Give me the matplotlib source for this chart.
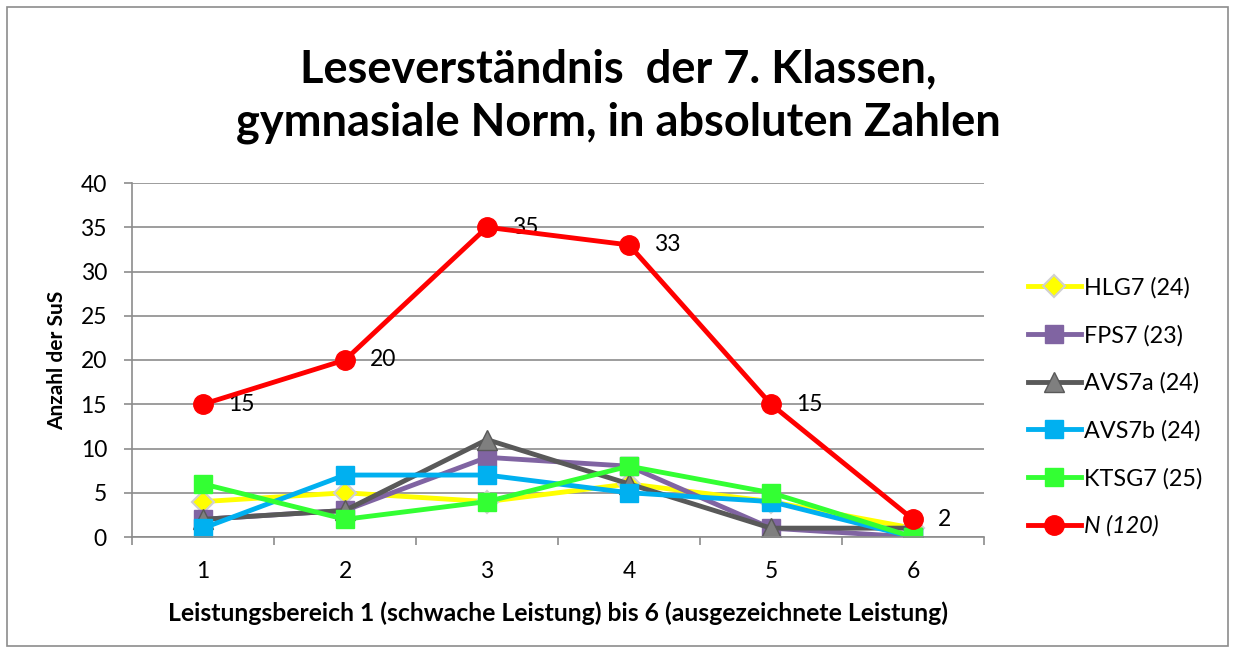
import matplotlib.pyplot as plt
from matplotlib.patches import Rectangle

plt.rcParams['font.family'] = ['Lato', 'DejaVu Sans']

# Data
bereiche = [1, 2, 3, 4, 5, 6]
hlg7 = [4, 5, 4, 6, 4, 1]
fps7 = [2, 3, 9, 8, 1, 0]
avs7a = [2, 3, 11, 6, 1, 1]
avs7b = [1, 7, 7, 5, 4, 0]
ktsg7 = [6, 2, 4, 8, 5, 0]
n_total = [15, 20, 35, 33, 15, 2]

W, H = 1233, 653
fig = plt.figure(figsize=(W / 100, H / 100), dpi=100)

# outer chart border
fig.patches.append(Rectangle((7 / W, 7 / H), (1228 - 7) / W, (646 - 7) / H,
                             transform=fig.transFigure, fill=False,
                             edgecolor='#8c8c8c', linewidth=1.2))

ax = fig.add_axes([132 / W, (H - 537) / H, (984 - 132) / W, (537 - 183) / H])

grid_col = '#8c8c8c'
lw = 3.5
ax.plot(bereiche, hlg7, color='#FFFF00', lw=lw, marker='D', ms=11.5,
        mfc='#FFFF00', mec='#d0d0d0', mew=1.5, label='HLG7 (24)')
ax.plot(bereiche, fps7, color='#8064A2', lw=lw, marker='s', ms=13.5,
        mfc='#8064A2', mec='#8064A2', label='FPS7 (23)')
ax.plot(bereiche, avs7a, color='#595959', lw=lw, marker='^', ms=14,
        mfc='#7f7f7f', mec='#595959', mew=1, label='AVS7a (24)')
ax.plot(bereiche, avs7b, color='#00B0F0', lw=lw, marker='s', ms=13.5,
        mfc='#00B0F0', mec='#00B0F0', label='AVS7b (24)')
ax.plot(bereiche, ktsg7, color='#33FF33', lw=lw, marker='s', ms=13.5,
        mfc='#33FF33', mec='#33FF33', label='KTSG7 (25)')
ax.plot(bereiche, n_total, color='#FF0000', lw=lw, marker='o', ms=14,
        mfc='#FF0000', mec='#FF0000', label='N (120)', zorder=5)

for x, y in zip(bereiche, n_total):
    ax.annotate(str(y), (x, y), xytext=(18, 0), textcoords='offset points',
                va='center', ha='left', fontsize=16.5)

ax.set_xlim(0.5, 6.5)
ax.set_ylim(0, 40)
ax.set_yticks(range(0, 41, 5))
ax.set_xticks(bereiche)
ax.set_xticks([0.5 + i for i in range(7)], minor=True)
ax.tick_params(axis='x', which='major', length=0, pad=17, labelsize=16.5)
ax.tick_params(axis='x', which='minor', length=6, color=grid_col, width=1.2)
ax.tick_params(axis='y', length=6, color=grid_col, width=1.2, labelsize=16.5, pad=12)
ax.yaxis.grid(True, color=grid_col, linewidth=1.2)
ax.set_axisbelow(True)
for s in ['top', 'right']:
    ax.spines[s].set_visible(False)
for s in ['left', 'bottom']:
    ax.spines[s].set_color(grid_col)
    ax.spines[s].set_linewidth(1.2)

ax.set_ylabel('Anzahl der SuS', fontsize=15, fontweight='bold', labelpad=10)
ax.set_xlabel('Leistungsbereich 1 (schwache Leistung) bis 6 (ausgezeichnete Leistung)',
              fontsize=17.8, fontweight='bold', labelpad=14)

fig.text(618 / W, 1 - 96 / H,
         'Leseverständnis  der 7. Klassen,\ngymnasiale Norm, in absoluten Zahlen',
         ha='center', va='center', fontsize=32.5, fontweight='bold', linespacing=1.32)

leg = ax.legend(loc='upper left', bbox_to_anchor=(1007 / W, 1 - 256 / H),
                bbox_transform=fig.transFigure, frameon=False, fontsize=16.8,
                handlelength=2.25, handletextpad=0.15, labelspacing=1.12)
leg.get_texts()[5].set_style('italic')

fig.savefig('out.png', dpi=100)
